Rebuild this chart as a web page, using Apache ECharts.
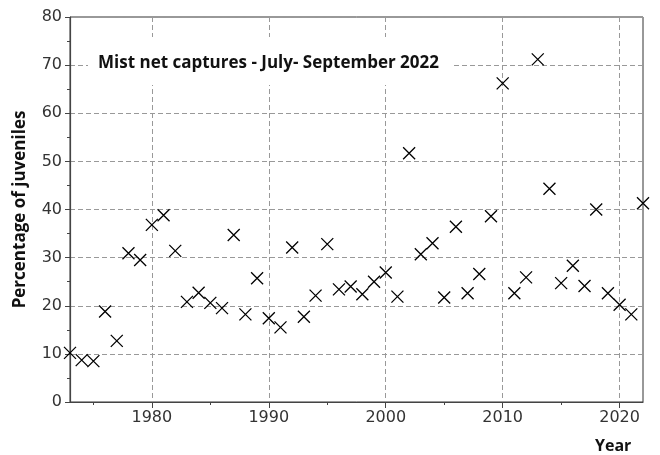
<!DOCTYPE html>
<html>
<head>
<meta charset="utf-8">
<script src="https://cdn.jsdelivr.net/npm/echarts@6/dist/echarts.min.js"></script>
<style>html,body{margin:0;padding:0;background:#fff}#c{width:660px;height:455px}</style>
</head>
<body>
<div id="c"></div>
<script>
var years = [1973,1974,1975,1976,1977,1978,1979,1980,1981,1982,1983,1984,1985,1986,1987,1988,1989,1990,1991,1992,1993,1994,1995,1996,1997,1998,1999,2000,2001,2002,2003,2004,2005,2006,2007,2008,2009,2010,2011,2012,2013,2014,2015,2016,2017,2018,2019,2020,2021,2022];
var juvenilePct = [10.2,8.7,8.5,18.8,12.7,30.9,29.5,36.8,38.8,31.4,20.8,22.7,20.6,19.5,34.7,18.2,25.7,17.4,15.5,32.1,17.7,22.1,32.8,23.4,24.0,22.4,25.0,26.9,21.9,51.7,30.7,33.0,21.7,36.4,22.6,26.6,38.6,66.2,22.6,25.9,71.2,44.3,24.7,28.3,24.1,40.0,22.6,20.2,18.2,41.3];
var xMajorTicks = [1980,1990,2000,2010,2020];
var xMinorTicks = [1975,1985,1995,2005,2015];
var titleText = 'Mist net captures - July- September 2022';

var data = years.map(function(y,i){return [y, juvenilePct[i]];});
var chart = echarts.init(document.getElementById('c'));
var FONT = 'DejaVu Sans';
var BOLD = 'Open Sans';
chart.setOption({
  animation:false,
  backgroundColor:'#fff',
  title:{
    text:titleText, left:88, top:37, padding:[18,14,13,10],
    backgroundColor:'#fff',
    textStyle:{fontFamily:BOLD, fontWeight:'bold', fontSize:17, color:'#111'}
  },
  grid:{left:70, right:17, top:17, bottom:53, show:true, borderColor:'#333', borderWidth:1, backgroundColor:'transparent', containLabel:false, outerBoundsMode:'none'},
  xAxis:[{
    type:'value', min:1973, max:2022,
    name:'Year', nameLocation:'end', nameGap:-48,
    nameTextStyle:{fontFamily:BOLD, fontWeight:'bold', fontSize:16, color:'#111', verticalAlign:'top', padding:[36,0,0,0]},
    axisLine:{lineStyle:{color:'#444', width:1.2}},
    axisTick:{customValues:xMajorTicks, length:6, lineStyle:{color:'#444'}},
    axisLabel:{customValues:xMajorTicks, fontFamily:FONT, fontSize:16, color:'#333', margin:8, formatter:function(v){return String(v);}},
    splitLine:{show:true, lineStyle:{color:'#999', type:[5,3], width:1}}
  },{
    type:'value', min:1973, max:2022, position:'bottom',
    axisLine:{show:false},
    axisTick:{customValues:xMinorTicks, length:3, lineStyle:{color:'#444'}},
    axisLabel:{show:false},
    splitLine:{show:false}
  }],
  yAxis:{
    type:'value', min:0, max:80, interval:10,
    name:'Percentage of juveniles', nameLocation:'middle', nameGap:41,
    nameTextStyle:{fontFamily:BOLD, fontWeight:'bold', fontSize:17, color:'#111'},
    axisLine:{show:true, lineStyle:{color:'#444', width:1.2}},
    axisTick:{show:true, length:5, lineStyle:{color:'#444'}},
    minorTick:{show:true, splitNumber:2, length:3, lineStyle:{color:'#444'}},
    axisLabel:{fontFamily:FONT, fontSize:16, color:'#333', margin:8},
    splitLine:{show:true, lineStyle:{color:'#999', type:[5,3], width:1}}
  },
  series:[{
    type:'scatter', data:data, xAxisIndex:0,
    symbol:'path://M0,0L12,12M12,0L0,12', symbolSize:12,
    itemStyle:{color:'none', borderColor:'#000', borderWidth:1.3, opacity:1},
    clip:false
  }]
});
</script>
</body>
</html>
